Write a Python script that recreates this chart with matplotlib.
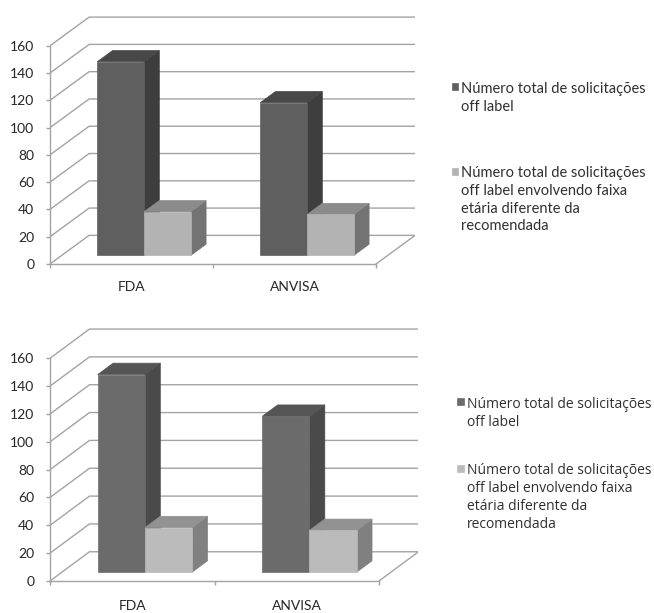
import numpy as np
import matplotlib.pyplot as plt
from matplotlib.patches import Polygon, Rectangle

# ------------------------------------------------------------------
# data
# ------------------------------------------------------------------
categories = ['FDA', 'ANVISA']
total_off_label = [142, 112]
off_label_faixa = [32, 30]
series_labels = [
    'Número total de solicitações\noff label',
    'Número total de solicitações\noff label envolvendo faixa\netária diferente da\nrecomendada',
]
y_ticks = [0, 20, 40, 60, 80, 100, 120, 140, 160]

# ------------------------------------------------------------------
# geometry of the fake 3D (oblique) projection
# ------------------------------------------------------------------
W, H = 654, 613
DX, DY = 0.24, 21.0        # back wall offset (x in category units, y in value units)
F1, F2 = 0.30, 0.69        # front / back depth of the bars
X0, BW = 0.218, 0.287      # first bar start inside a category, bar width
YMAX = 185

fig = plt.figure(figsize=(W / 100, H / 100), dpi=100)
fig.patch.set_facecolor('white')


def px_axes(x0, y0, x1, y1):
    # pixel box, origin at top-left of the picture
    return fig.add_axes([x0 / W, 1 - y1 / H, (x1 - x0) / W, (y1 - y0) / H])


def draw_bar(ax, xl, v, c_front, c_side, c_top):
    xr = xl + BW
    side = [(xr + F1 * DX, F1 * DY), (xr + F2 * DX, F2 * DY),
            (xr + F2 * DX, v + F2 * DY), (xr + F1 * DX, v + F1 * DY)]
    top = [(xl + F1 * DX, v + F1 * DY), (xr + F1 * DX, v + F1 * DY),
           (xr + F2 * DX, v + F2 * DY), (xl + F2 * DX, v + F2 * DY)]
    front = [(xl + F1 * DX, F1 * DY), (xr + F1 * DX, F1 * DY),
             (xr + F1 * DX, v + F1 * DY), (xl + F1 * DX, v + F1 * DY)]
    for pts, c in ((side, c_side), (top, c_top), (front, c_front)):
        ax.add_patch(Polygon(pts, closed=True, facecolor=c, edgecolor=c,
                             linewidth=0.5, zorder=3))


def draw_chart(ax, palette, xpad=12, grid_c='#a3a3a3'):
    ncat = len(categories)
    ax.set_xlim(0, ncat + DX)
    ax.set_ylim(0, YMAX)
    ax.set_facecolor('none')
    for s in ('top', 'right'):
        ax.spines[s].set_visible(False)
    ax.spines['left'].set_bounds(0, y_ticks[-1])
    ax.spines['bottom'].set_bounds(0, ncat)
    for s in ('left', 'bottom'):
        ax.spines[s].set_color(grid_c)
        ax.spines[s].set_linewidth(1.0)

    ax.set_yticks(y_ticks)
    ax.set_yticklabels([str(t) for t in y_ticks], family='Lato', fontsize=10,
                       color='#262626')
    ax.tick_params(axis='y', length=2.9, width=1.0, color=grid_c, pad=8.4)
    ax.set_xticks(np.arange(ncat + 1))
    ax.set_xticklabels([])
    ax.set_xticks(np.arange(ncat) + 0.5, minor=True)
    ax.set_xticklabels(categories, minor=True, family='Lato', fontsize=10,
                       color='#262626')
    ax.tick_params(axis='x', which='major', length=2.9, width=1.0, color=grid_c)
    ax.tick_params(axis='x', which='minor', length=0, pad=xpad)

    # walls: oblique + back gridlines
    for t in y_ticks:
        ax.plot([0, DX, ncat + DX], [t, t + DY, t + DY], color=grid_c,
                lw=1.0, zorder=1, solid_joinstyle='miter')
    ax.plot([ncat, ncat + DX], [0, DY], color=grid_c, lw=1.0, zorder=1)

    series = [total_off_label, off_label_faixa]
    for j in range(ncat):
        for i, vals in enumerate(series):
            xl = j + X0 + i * BW
            draw_bar(ax, xl, vals[j], *palette[i])


def draw_legend(x_sq, sq_tops, x_txt, txt_tops, palette, family, size, lsp):
    for k, lab in enumerate(series_labels):
        c = palette[k][0]
        fig.patches.append(Rectangle((x_sq / W, 1 - (sq_tops[k] + 6.7) / H),
                                     6.7 / W, 6.7 / H, transform=fig.transFigure,
                                     facecolor=c, edgecolor=c, lw=0.5))
        fig.text(x_txt / W, 1 - txt_tops[k] / H, lab, family=family,
                 fontsize=size, color='#303030', va='top', ha='left',
                 linespacing=lsp)


# colours: (front, side, top)
palette_top = [('#5f5f5f', '#3e3e3e', '#484848'), ('#b3b3b3', '#737373', '#8b8b8b')]
palette_bot = [('#6b6b6b', '#4a4a4a', '#555555'), ('#bbbbbb', '#808080', '#929292')]

ax1 = px_axes(50, 264 - YMAX * 1.364, 50 + (2 + DX) * 163, 264)
draw_chart(ax1, palette_top, xpad=12)
draw_legend(451.7, [83.3, 168], 461, [82.5, 166.5], palette_top, 'Lato', 10.5, 1.32)

ax2 = px_axes(50, 581 - YMAX * 1.392, 50 + (2 + DX) * 164.5, 581)
draw_chart(ax2, palette_bot, xpad=13.5)
draw_legend(457, [398, 465], 467, [397, 463], palette_bot, 'Open Sans', 10, 1.26)

fig.savefig('out.png', dpi=100, facecolor='white')
